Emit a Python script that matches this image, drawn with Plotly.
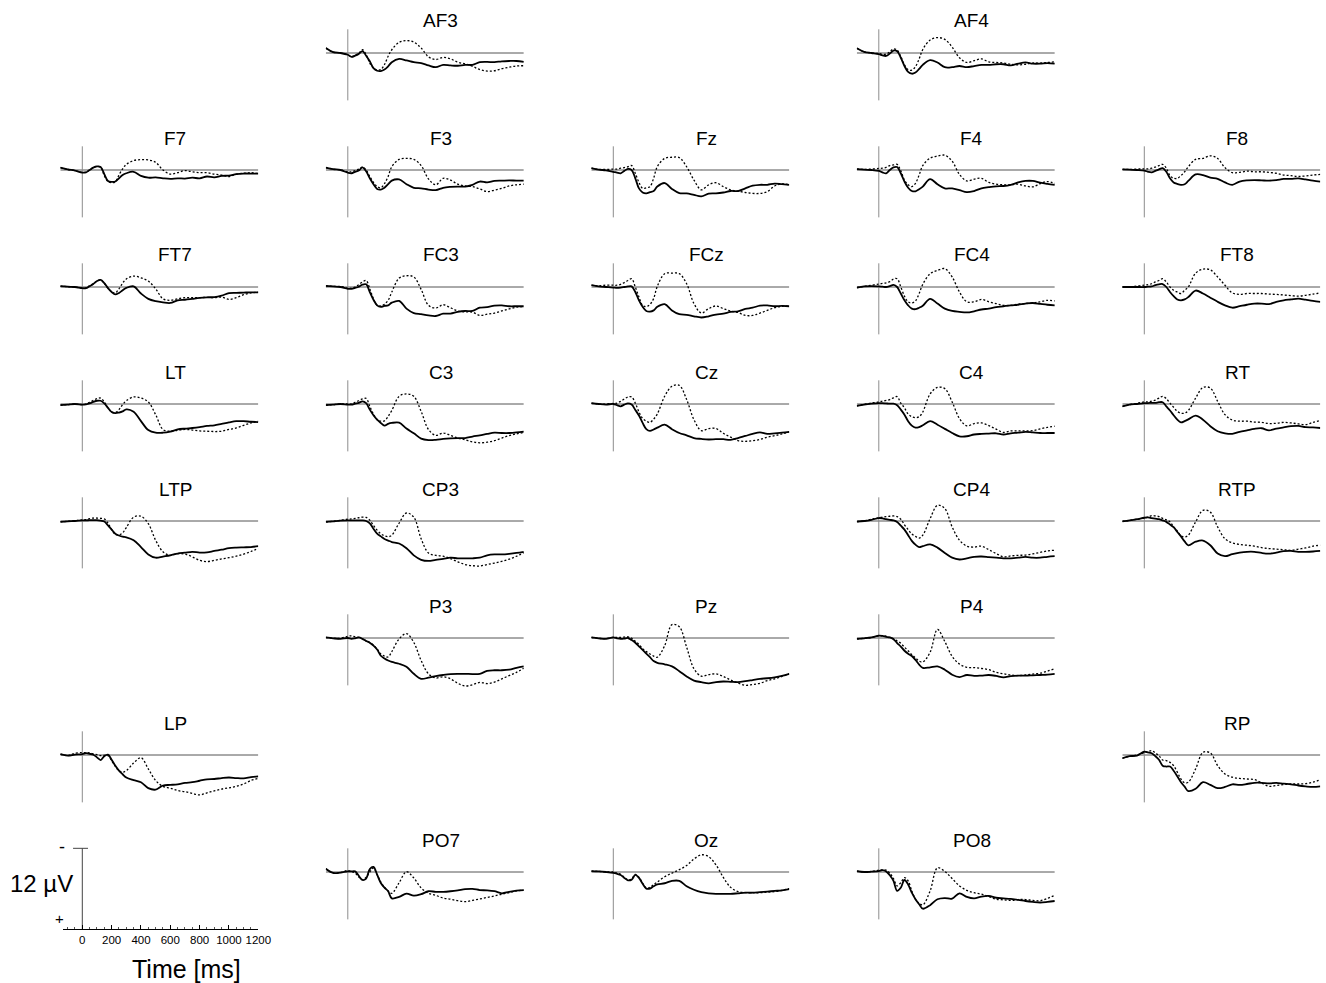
import plotly.graph_objects as go

# ---------------- data (µV, negative plotted upward) ----------------
TIME_MS = [-150, -100, -50,
           0, 25, 50, 75, 100, 125, 150, 175, 200, 225, 250, 275, 300,
           350, 400, 450, 500, 550, 600, 650, 700, 750, 800, 850, 900, 950, 1000, 1050, 1100, 1150, 1200]

AF3_a = [-0.85, -0.15, 0.0, 0.3, 0.65, 0.45, 0.15, -0.3, 0.45, 1.4, 2.55, 3.0, 3.05, 2.8, 2.25, 1.55,
         1.0, 1.25, 1.55, 1.7, 2.1, 2.4, 2.0, 2.1, 2.15, 2.0, 2.0, 1.55, 1.5, 1.55, 1.4, 1.35, 1.35, 1.5]
AF3_b = [-0.85, -0.15, 0.0, 0.3, 0.6, 0.4, 0.05, -0.55, 0.3, 1.7, 2.55, 2.85, 2.8, 1.95, 0.55, -0.55,
         -1.8, -2.1, -1.85, -0.85, 0.65, 1.1, 0.75, 1.0, 1.55, 1.85, 2.25, 2.8, 3.05, 3.0, 2.65, 2.4, 2.2, 2.15]
AF4_a = [-0.8, -0.2, 0.0, 0.2, 0.4, 0.5, 0.1, -0.4, -0.3, 0.8, 2.2, 3.2, 3.5, 3.3, 2.7, 2.0,
         1.2, 1.6, 2.4, 2.4, 2.2, 2.4, 2.2, 2.0, 2.0, 1.9, 1.9, 2.1, 1.8, 1.6, 1.8, 1.8, 1.7, 1.8]
AF4_b = [-0.8, -0.2, 0.0, 0.1, 0.2, 0.2, -0.2, -0.7, -0.5, 0.6, 2.0, 2.8, 2.9, 2.3, 1.0, -0.6,
         -2.2, -2.6, -2.3, -1.0, 0.8, 1.6, 1.3, 1.0, 1.5, 1.6, 1.7, 1.9, 2.0, 1.9, 1.7, 1.7, 1.6, 1.5]
F7_a = [-0.4, -0.1, 0.1, 0.45, 0.4, 0.0, -0.4, -0.6, -0.5, 0.7, 1.85, 2.0, 1.95, 1.4, 0.85, 0.55,
        0.3, 1.0, 1.3, 1.25, 1.4, 1.5, 1.4, 1.45, 1.3, 1.4, 1.1, 1.25, 1.0, 0.95, 0.7, 0.6, 0.6, 0.6]
F7_b = [-0.4, -0.1, 0.1, 0.4, 0.35, 0.0, -0.4, -0.6, -0.5, 0.95, 1.95, 2.15, 2.0, 0.85, -0.2, -0.95,
        -1.6, -1.75, -1.7, -1.3, 0.0, 0.7, 0.45, 0.1, 0.3, 0.45, 0.45, 0.7, 0.85, 1.1, 0.7, 0.55, 0.45, 0.6]
F3_a = [-0.4, -0.15, 0.0, 0.45, 0.55, 0.3, 0.1, -0.45, 0.2, 1.4, 2.4, 3.2, 3.3, 3.0, 2.4, 1.8,
        1.6, 2.4, 3.0, 3.1, 3.3, 3.4, 3.0, 2.85, 2.8, 2.8, 2.5, 1.95, 2.1, 1.85, 1.8, 1.75, 1.8, 1.8]
F3_b = [-0.4, -0.15, 0.0, 0.3, 0.3, 0.1, -0.15, -0.5, 0.0, 1.1, 2.1, 2.8, 3.0, 2.3, 1.1, -0.55,
        -1.8, -1.95, -1.8, -0.75, 1.5, 2.5, 1.4, 1.7, 2.4, 2.7, 2.8, 3.2, 3.65, 3.4, 3.1, 2.7, 2.5, 2.4]
Fz_a = [-0.3, -0.05, 0.05, 0.3, 0.45, 0.55, 0.15, -0.2, 0.0, 1.4, 3.1, 3.8, 3.95, 3.75, 3.55, 2.8,
        2.2, 3.2, 3.9, 3.95, 4.2, 4.45, 4.0, 3.95, 3.8, 3.55, 3.55, 3.1, 2.65, 2.5, 2.5, 2.3, 2.4, 2.5]
Fz_b = [-0.3, -0.1, -0.1, -0.15, -0.15, -0.3, -0.4, -0.55, -0.75, 0.55, 2.1, 3.1, 3.0, 2.8, 1.4, -0.55,
        -1.95, -2.15, -2.1, -0.55, 1.7, 3.35, 2.5, 2.15, 2.8, 3.35, 3.55, 3.8, 3.95, 3.95, 3.65, 2.7, 2.35, 2.5]
F4_a = [-0.15, -0.05, 0.0, 0.15, 0.4, 0.55, 0.0, -0.45, -0.5, 0.55, 1.95, 3.0, 3.55, 3.6, 3.25, 2.8,
        1.55, 2.4, 3.1, 3.1, 3.4, 3.75, 3.55, 3.1, 2.9, 2.75, 2.7, 2.5, 2.1, 1.85, 1.85, 2.15, 2.35, 2.5]
F4_b = [-0.15, -0.1, -0.15, -0.25, -0.3, -0.45, -0.75, -0.85, -0.95, 0.15, 1.7, 2.5, 2.8, 2.25, 0.85, -0.75,
        -2.0, -2.35, -2.5, -1.5, 0.75, 1.85, 1.55, 1.4, 2.1, 2.4, 2.5, 2.5, 2.4, 2.7, 2.85, 2.3, 1.95, 2.25]
F8_a = [-0.1, -0.05, 0.0, 0.1, 0.3, 0.4, 0.15, -0.1, -0.3, 0.3, 1.4, 2.1, 2.35, 2.5, 2.4, 1.85,
        0.75, 0.85, 1.3, 1.5, 2.1, 2.5, 1.95, 1.75, 1.7, 1.75, 1.8, 1.7, 1.5, 1.5, 1.4, 1.6, 1.8, 1.95]
F8_b = [-0.1, -0.1, -0.15, -0.2, -0.2, -0.3, -0.5, -0.75, -0.95, -0.3, 0.95, 1.4, 1.4, 0.95, 0.3, -0.55,
        -1.8, -1.95, -2.4, -1.95, -0.4, 0.45, 0.4, 0.2, 0.3, 0.3, 0.4, 0.55, 0.85, 0.95, 1.1, 1.0, 0.85, 0.75]
FT7_a = [-0.15, -0.05, 0.0, 0.2, 0.2, -0.15, -0.5, -1.0, -1.2, -0.65, 0.2, 0.85, 1.25, 1.0, 0.55, 0.15,
         -0.1, 1.1, 2.0, 2.4, 2.6, 2.7, 2.25, 2.15, 2.0, 1.85, 1.75, 1.7, 1.45, 1.05, 1.0, 0.95, 0.9, 0.9]
FT7_b = [-0.15, -0.05, 0.0, 0.2, 0.15, -0.2, -0.55, -1.0, -1.2, -0.6, 0.2, 0.8, 1.0, 0.3, -0.65, -1.35,
         -1.85, -1.55, -1.0, 0.3, 2.0, 2.25, 2.0, 1.8, 1.8, 1.8, 1.75, 1.8, 1.7, 2.1, 1.8, 1.3, 1.0, 0.85]
FC3_a = [-0.2, -0.1, 0.0, 0.3, 0.3, 0.15, -0.05, -0.4, -0.45, 0.85, 2.15, 3.1, 3.35, 3.2, 3.1, 2.65,
         2.35, 3.65, 4.4, 4.6, 4.8, 4.9, 4.5, 4.5, 4.2, 4.05, 4.05, 3.5, 3.4, 3.15, 3.1, 3.25, 3.25, 3.25]
FC3_b = [-0.2, -0.1, -0.1, 0.2, 0.2, 0.0, -0.4, -0.85, -1.1, 0.3, 2.0, 3.1, 3.2, 2.9, 2.25, 0.85,
         -1.5, -1.9, -1.7, 0.4, 3.1, 3.55, 3.0, 3.5, 4.05, 4.2, 4.25, 4.8, 4.6, 4.4, 4.05, 3.7, 3.4, 3.3]
FCz_a = [-0.3, -0.1, 0.0, 0.1, 0.15, 0.1, 0.0, -0.1, -0.1, 0.85, 2.25, 3.35, 4.05, 4.15, 3.95, 3.35,
         2.9, 3.95, 4.6, 4.7, 4.95, 5.15, 4.95, 4.65, 4.5, 4.2, 4.1, 3.7, 3.5, 3.15, 3.1, 3.25, 3.2, 3.25]
FCz_b = [-0.3, -0.2, -0.3, -0.3, -0.3, -0.45, -0.75, -1.1, -1.4, 0.0, 1.7, 3.1, 3.3, 2.95, 1.95, -0.1,
         -2.25, -2.35, -2.25, -0.55, 2.8, 4.4, 3.65, 3.2, 3.65, 4.05, 4.3, 4.8, 4.8, 4.4, 3.95, 3.5, 3.25, 3.25]
FC4_a = [0.1, -0.1, -0.15, -0.1, -0.05, 0.0, -0.15, -0.35, 0.0, 1.1, 2.25, 3.1, 3.65, 3.75, 3.5, 3.15,
         2.0, 2.8, 3.65, 4.05, 4.2, 4.3, 4.1, 3.8, 3.65, 3.4, 3.25, 3.1, 3.0, 2.8, 2.7, 2.85, 3.0, 3.1]
FC4_b = [0.1, -0.1, -0.3, -0.5, -0.6, -0.7, -0.9, -1.35, -1.4, 0.0, 1.55, 2.5, 2.7, 2.35, 1.1, -0.45,
         -2.25, -2.8, -3.1, -1.7, 0.85, 2.5, 2.5, 2.1, 2.5, 2.8, 3.1, 3.1, 2.9, 2.8, 2.7, 2.5, 2.25, 2.35]
FT8_a = [0.0, 0.0, 0.0, 0.0, -0.05, -0.1, -0.3, -0.45, -0.5, 0.0, 0.85, 1.55, 2.1, 2.25, 2.1, 1.7,
         0.6, 1.1, 1.8, 2.5, 3.1, 3.5, 3.25, 3.0, 2.8, 2.8, 2.9, 2.5, 2.25, 2.1, 1.95, 2.15, 2.35, 2.5]
FT8_b = [0.0, -0.05, -0.15, -0.3, -0.4, -0.55, -0.85, -1.1, -1.4, -0.85, 0.0, 0.55, 0.85, 1.1, 0.55, 0.0,
         -2.35, -3.0, -2.9, -1.7, -0.3, 1.0, 1.25, 1.1, 1.1, 1.1, 1.2, 1.25, 1.35, 1.45, 1.55, 1.4, 1.2, 1.0]
LT_a = [0.2, 0.1, 0.0, 0.1, 0.05, -0.1, -0.35, -0.55, -0.55, -0.1, 0.65, 1.35, 1.55, 1.45, 1.25, 0.9,
        1.3, 2.9, 4.4, 4.85, 4.85, 4.65, 4.3, 4.15, 4.05, 3.9, 3.7, 3.6, 3.35, 3.1, 2.9, 2.9, 3.0, 3.05]
LT_b = [0.2, 0.1, 0.0, 0.1, 0.0, -0.3, -0.6, -0.9, -1.0, -0.35, 0.65, 1.35, 1.45, 0.95, 0.1, -0.55,
        -1.2, -1.0, -0.35, 1.8, 4.3, 4.6, 4.45, 4.3, 4.4, 4.55, 4.6, 4.65, 4.6, 4.3, 4.05, 3.6, 3.2, 2.9]
C3_a = [0.2, 0.1, 0.0, 0.1, 0.1, -0.05, -0.2, -0.45, -0.15, 0.95, 1.9, 2.65, 3.2, 3.65, 3.35, 3.2,
        3.15, 4.15, 4.95, 5.85, 6.1, 6.05, 5.9, 5.8, 5.75, 5.75, 5.5, 5.3, 5.05, 4.85, 4.9, 4.9, 4.8, 4.65]
C3_b = [0.2, 0.1, 0.0, 0.0, 0.0, -0.3, -0.55, -0.85, -0.95, 0.4, 1.7, 2.65, 2.9, 2.85, 2.1, 1.1,
        -1.3, -1.7, -1.3, 1.25, 4.3, 5.3, 4.9, 5.3, 5.75, 6.05, 6.4, 6.55, 6.45, 6.2, 5.75, 5.35, 5.05, 4.8]
Cz_a = [-0.15, 0.0, 0.1, 0.0, 0.2, 0.4, 0.1, -0.1, 0.1, 1.0, 1.95, 3.2, 4.25, 4.55, 4.3, 4.0,
        3.5, 4.25, 4.9, 5.3, 5.75, 5.9, 6.0, 5.95, 5.95, 6.05, 5.75, 5.4, 5.05, 4.8, 5.05, 4.95, 4.85, 4.7]
Cz_b = [-0.15, 0.0, 0.0, -0.1, -0.15, -0.45, -0.85, -1.2, -1.2, -0.15, 1.35, 2.45, 2.9, 3.1, 2.55, 1.7,
        -1.3, -3.0, -3.15, -0.75, 2.65, 4.5, 4.15, 4.15, 4.95, 5.6, 6.2, 6.3, 6.2, 6.0, 5.6, 5.35, 5.05, 4.7]
C4_a = [0.3, 0.1, -0.05, -0.15, -0.15, -0.1, -0.05, -0.05, 0.2, 0.95, 1.8, 2.9, 3.65, 4.0, 3.9, 3.6,
        2.9, 3.5, 4.2, 4.9, 5.45, 5.45, 5.15, 5.05, 5.0, 4.95, 5.15, 4.95, 4.85, 4.7, 4.8, 4.9, 4.9, 4.9]
C4_b = [0.3, 0.05, -0.15, -0.35, -0.5, -0.6, -0.75, -1.05, -1.25, -0.15, 0.65, 1.7, 2.15, 2.3, 2.15, 1.35,
        -1.7, -2.8, -2.6, -0.35, 2.45, 3.7, 3.3, 3.2, 3.65, 4.25, 4.8, 4.55, 4.55, 4.55, 4.5, 4.2, 3.95, 3.75]
RT_a = [0.4, 0.1, 0.0, -0.15, -0.15, -0.2, -0.2, -0.3, -0.3, 0.4, 1.1, 1.9, 2.65, 3.1, 2.9, 2.6,
        1.95, 2.65, 3.75, 4.6, 4.95, 5.05, 4.7, 4.45, 4.2, 4.1, 4.45, 4.15, 3.95, 3.75, 3.7, 3.9, 3.95, 4.05]
RT_b = [0.4, 0.1, -0.1, -0.35, -0.35, -0.5, -0.65, -1.0, -1.3, -0.9, -0.15, 0.55, 1.25, 1.55, 1.55, 1.1,
        -1.0, -2.8, -2.7, -0.45, 1.8, 2.7, 2.9, 2.9, 3.05, 3.1, 3.3, 3.25, 3.1, 3.2, 3.35, 3.5, 3.1, 2.8]
LTP_a = [0.15, 0.05, 0.0, -0.1, -0.1, -0.15, -0.15, -0.15, -0.05, 0.1, 0.75, 1.45, 2.15, 2.45, 2.65, 2.75,
         3.25, 4.4, 5.65, 6.2, 6.0, 5.8, 5.5, 5.35, 5.2, 5.35, 5.3, 5.05, 4.85, 4.6, 4.5, 4.45, 4.4, 4.25]
LTP_b = [0.15, 0.05, -0.05, -0.2, -0.25, -0.4, -0.5, -0.5, -0.45, -0.35, 0.35, 1.45, 2.25, 2.35, 2.0, 1.1,
         -0.65, -0.8, 0.45, 3.25, 5.2, 5.8, 5.5, 5.6, 6.05, 6.65, 6.85, 6.65, 6.4, 6.2, 5.95, 5.6, 5.15, 4.65]
CP3_a = [0.15, 0.05, -0.05, -0.1, -0.1, -0.1, -0.1, -0.1, 0.0, 0.4, 1.3, 2.15, 2.6, 3.05, 3.3, 3.55,
         3.8, 4.6, 5.8, 6.55, 6.75, 6.55, 6.4, 6.2, 6.3, 6.3, 6.3, 6.2, 5.8, 5.65, 5.65, 5.55, 5.4, 5.2]
CP3_b = [0.15, 0.05, -0.1, -0.3, -0.35, -0.45, -0.55, -0.65, -0.6, -0.15, 0.75, 1.55, 2.15, 2.5, 2.65, 2.4,
         0.35, -1.35, -0.65, 3.0, 5.4, 5.8, 5.95, 6.35, 6.9, 7.35, 7.55, 7.6, 7.35, 7.1, 6.8, 6.45, 5.95, 5.35]
CP4_a = [0.1, 0.0, -0.2, -0.5, -0.45, -0.3, -0.2, -0.1, 0.15, 0.8, 1.45, 2.4, 3.35, 4.0, 4.4, 4.25,
         3.95, 4.5, 5.4, 6.2, 6.5, 6.3, 6.05, 6.0, 6.1, 6.2, 6.3, 6.3, 6.2, 6.05, 6.2, 6.2, 6.05, 5.95]
CP4_b = [0.1, 0.0, -0.3, -0.55, -0.65, -0.75, -0.8, -0.85, -0.75, -0.3, 0.65, 1.45, 2.2, 2.6, 2.9, 2.4,
         -0.4, -2.65, -2.1, 1.0, 3.25, 4.25, 4.4, 4.25, 4.85, 5.5, 6.05, 5.9, 5.8, 5.75, 5.55, 5.3, 5.05, 4.95]
RTP_a = [0.05, -0.1, -0.3, -0.55, -0.6, -0.5, -0.4, -0.3, -0.1, 0.15, 0.6, 1.05, 1.85, 2.6, 3.45, 4.1,
         3.5, 3.3, 4.1, 5.5, 5.95, 5.6, 5.35, 5.2, 5.2, 5.4, 5.5, 5.35, 5.1, 5.05, 5.2, 5.2, 5.15, 5.05]
RTP_b = [0.05, -0.1, -0.3, -0.5, -0.65, -0.9, -0.85, -0.75, -0.45, -0.2, 0.15, 1.0, 1.7, 2.5, 2.7, 2.4,
         0.15, -1.8, -1.5, 1.0, 3.0, 3.7, 3.95, 4.1, 4.25, 4.5, 4.65, 4.75, 4.85, 4.95, 4.75, 4.55, 4.25, 4.1]
P3_a = [-0.1, 0.05, 0.15, 0.0, 0.15, 0.05, -0.1, 0.15, 0.5, 0.8, 1.3, 1.95, 3.0, 3.45, 3.8, 4.05,
        4.35, 4.85, 6.05, 6.9, 6.7, 6.45, 6.25, 6.1, 6.05, 6.05, 6.1, 6.05, 5.55, 5.45, 5.45, 5.35, 5.05, 4.8]
P3_b = [-0.1, 0.05, 0.05, -0.3, -0.35, -0.2, -0.1, 0.15, 0.5, 0.8, 1.2, 1.85, 2.7, 3.05, 3.2, 2.3,
        0.15, -0.75, 0.75, 3.8, 6.05, 6.75, 6.55, 6.9, 7.65, 8.1, 7.9, 7.5, 7.7, 7.45, 6.9, 6.35, 5.8, 5.1]
Pz_a = [-0.1, 0.05, 0.15, -0.1, 0.05, 0.15, 0.1, 0.0, 0.35, 0.8, 1.4, 2.0, 2.65, 3.25, 3.9, 4.2,
        4.45, 4.8, 5.6, 6.5, 7.2, 7.45, 7.65, 7.45, 7.35, 7.4, 7.45, 7.3, 7.1, 6.9, 6.8, 6.65, 6.4, 6.05]
Pz_b = [-0.1, 0.05, 0.1, -0.1, -0.1, -0.1, -0.15, -0.2, 0.05, 0.55, 1.1, 1.8, 2.3, 2.7, 3.05, 3.25,
        1.3, -2.25, -1.9, 1.55, 5.2, 6.45, 6.2, 6.05, 6.5, 7.1, 7.6, 8.0, 7.85, 7.65, 7.2, 6.9, 6.5, 6.05]
P4_a = [0.15, 0.05, -0.1, -0.4, -0.35, -0.2, -0.1, 0.2, 0.85, 1.45, 2.15, 2.65, 3.05, 3.7, 4.5, 5.05,
        4.95, 4.8, 5.35, 6.2, 6.6, 6.25, 6.4, 6.35, 6.25, 6.4, 6.65, 6.45, 6.35, 6.35, 6.3, 6.25, 6.2, 6.05]
P4_b = [0.15, 0.05, -0.1, -0.35, -0.35, -0.3, -0.1, 0.1, 0.5, 0.9, 1.55, 2.15, 2.8, 3.35, 3.9, 4.05,
        2.4, -1.45, 0.6, 3.1, 4.4, 4.95, 5.0, 5.15, 5.35, 5.8, 6.05, 6.25, 6.35, 6.25, 6.1, 5.95, 5.6, 5.2]
LP_a = [-0.15, 0.1, -0.05, -0.15, -0.3, -0.2, -0.05, 0.4, 0.85, 0.2, -0.05, 0.8, 1.8, 2.65, 3.25, 3.8,
        4.25, 4.6, 5.6, 5.85, 5.15, 5.05, 4.95, 4.7, 4.6, 4.35, 4.1, 4.05, 3.9, 3.8, 3.9, 3.95, 3.75, 3.6]
LP_b = [-0.15, 0.1, -0.3, -0.4, -0.4, -0.35, -0.2, -0.05, 0.1, 0.05, 0.1, 0.95, 1.9, 2.65, 2.9, 2.65,
        1.35, 0.45, 2.35, 4.3, 5.3, 5.6, 6.0, 6.2, 6.5, 6.75, 6.4, 6.05, 5.75, 5.55, 5.3, 4.9, 4.3, 3.95]
RP_a = [0.55, 0.2, 0.1, -0.55, -0.45, -0.3, 0.2, 0.8, 1.8, 1.95, 1.95, 2.65, 3.6, 4.6, 5.35, 6.1,
        5.7, 4.6, 5.05, 5.6, 5.4, 4.95, 5.05, 4.9, 4.7, 4.7, 4.8, 4.7, 4.85, 4.95, 5.15, 5.3, 5.4, 5.3]
RP_b = [0.55, 0.2, 0.0, -0.4, -0.55, -0.75, -0.35, 0.1, 0.85, 0.95, 1.25, 1.8, 2.9, 4.05, 4.7, 4.6,
        2.35, -0.45, -0.35, 1.8, 3.2, 3.75, 3.95, 4.05, 4.15, 4.7, 5.3, 5.15, 5.0, 4.9, 4.9, 4.85, 4.6, 4.2]
PO7_a = [-0.55, 0.15, 0.1, -0.1, -0.1, -0.1, 0.65, 1.35, 1.1, -0.5, -0.85, 0.45, 1.85, 2.65, 3.25, 4.45,
         4.2, 3.65, 4.0, 3.75, 3.25, 3.35, 3.35, 3.25, 3.1, 2.9, 2.85, 3.05, 3.1, 3.25, 3.6, 3.35, 3.15, 3.05]
PO7_b = [-0.55, 0.15, 0.1, -0.25, -0.1, 0.2, 0.85, 1.3, 0.9, 0.0, -0.65, 0.45, 1.7, 2.6, 3.2, 3.6,
         1.8, -0.05, 1.0, 2.7, 3.6, 3.95, 4.4, 4.6, 4.85, 5.0, 4.8, 4.55, 4.3, 4.05, 3.75, 3.5, 3.2, 3.05]
Oz_a = [-0.15, -0.1, 0.0, 0.15, 0.3, 0.5, 1.0, 1.4, 1.3, 0.5, 1.0, 2.0, 2.8, 2.8, 2.4, 2.1,
        1.9, 1.5, 1.5, 2.4, 3.0, 3.4, 3.6, 3.7, 3.7, 3.7, 3.6, 3.5, 3.5, 3.4, 3.3, 3.2, 3.1, 2.9]
Oz_b = [-0.15, -0.1, 0.0, 0.0, 0.2, 0.4, 0.9, 1.3, 1.2, 0.4, 0.9, 1.9, 2.7, 2.6, 2.1, 1.7,
        0.8, 0.2, -0.4, -1.1, -2.2, -2.9, -2.6, -1.2, 0.9, 2.6, 3.3, 3.5, 3.5, 3.5, 3.4, 3.3, 3.1, 2.8]
PO8_a = [-0.15, 0.0, -0.05, -0.15, -0.3, -0.1, 0.55, 1.5, 3.2, 2.65, 1.35, 2.1, 3.5, 4.6, 5.45, 6.2,
         5.6, 4.6, 4.4, 4.5, 3.6, 4.2, 4.45, 4.15, 4.05, 4.35, 4.45, 4.55, 4.7, 4.9, 5.05, 5.15, 5.05, 4.9]
PO8_b = [-0.15, 0.0, -0.1, -0.3, -0.35, -0.3, 0.2, 1.1, 2.35, 1.8, 0.95, 1.5, 3.2, 4.6, 5.3, 5.55,
         3.2, -0.7, -0.1, 1.1, 2.35, 3.1, 3.5, 3.75, 4.15, 4.6, 4.7, 4.8, 4.65, 4.65, 4.8, 4.85, 4.45, 3.95]

# electrode name, grid row, grid column, solid series, dotted series
PANELS = [
    ("AF3", 0, 1, AF3_a, AF3_b), ("AF4", 0, 3, AF4_a, AF4_b),
    ("F7", 1, 0, F7_a, F7_b), ("F3", 1, 1, F3_a, F3_b), ("Fz", 1, 2, Fz_a, Fz_b),
    ("F4", 1, 3, F4_a, F4_b), ("F8", 1, 4, F8_a, F8_b),
    ("FT7", 2, 0, FT7_a, FT7_b), ("FC3", 2, 1, FC3_a, FC3_b), ("FCz", 2, 2, FCz_a, FCz_b),
    ("FC4", 2, 3, FC4_a, FC4_b), ("FT8", 2, 4, FT8_a, FT8_b),
    ("LT", 3, 0, LT_a, LT_b), ("C3", 3, 1, C3_a, C3_b), ("Cz", 3, 2, Cz_a, Cz_b),
    ("C4", 3, 3, C4_a, C4_b), ("RT", 3, 4, RT_a, RT_b),
    ("LTP", 4, 0, LTP_a, LTP_b), ("CP3", 4, 1, CP3_a, CP3_b),
    ("CP4", 4, 3, CP4_a, CP4_b), ("RTP", 4, 4, RTP_a, RTP_b),
    ("P3", 5, 1, P3_a, P3_b), ("Pz", 5, 2, Pz_a, Pz_b), ("P4", 5, 3, P4_a, P4_b),
    ("LP", 6, 0, LP_a, LP_b), ("RP", 6, 4, RP_a, RP_b),
    ("PO7", 7, 1, PO7_a, PO7_b), ("Oz", 7, 2, Oz_a, Oz_b), ("PO8", 7, 3, PO8_a, PO8_b),
]

SCALE_TICKS_MS = [0, 200, 400, 600, 800, 1000, 1200]
SCALE_NEG_UV, SCALE_POS_UV = -4, 8   # 12 µV calibration bar

# ---------------- layout geometry (pixels) ----------------
W, H = 1326, 983
COL_ZERO_PX = [82.3 + 265.5 * c for c in range(5)]
ROW_BASE_PX = [53 + 117 * r for r in range(8)]
PX_PER_MS = 0.14667
PX_PER_UV = 5.92
T_MIN, T_MAX = -150, 1200
Y_TOP, Y_BOT = -5.5, 10.0

TITLE_FONT = dict(family="Liberation Sans, Arial, sans-serif", size=19, color="black")
TEXT_FONT = "Liberation Sans, Arial, sans-serif"


def fx(p):
    return p / W


def fy(p):
    return 1 - p / H


fig = go.Figure()
layout_axes = {}
annotations = []

for i, (name, r, c, solid, dotted) in enumerate(PANELS):
    n = i + 1
    sfx = "" if n == 1 else str(n)
    xr, yr = "x" + sfx, "y" + sfx
    z, b = COL_ZERO_PX[c], ROW_BASE_PX[r]
    layout_axes["xaxis" + sfx] = dict(domain=[fx(z + PX_PER_MS * T_MIN), fx(z + PX_PER_MS * T_MAX)],
                                      range=[T_MIN, T_MAX], visible=False, anchor=yr, fixedrange=True,
                                      automargin=False)
    layout_axes["yaxis" + sfx] = dict(domain=[fy(b + PX_PER_UV * Y_BOT), fy(b + PX_PER_UV * Y_TOP)],
                                      range=[Y_BOT, Y_TOP], visible=False, anchor=xr, fixedrange=True,
                                      automargin=False)
    # baseline
    fig.add_trace(go.Scatter(x=[T_MIN, T_MAX], y=[0, 0], mode="lines",
                             line=dict(color="#555555", width=1), xaxis=xr, yaxis=yr, hoverinfo="skip"))
    # stimulus onset / calibration line
    fig.add_trace(go.Scatter(x=[0, 0], y=[SCALE_NEG_UV, SCALE_POS_UV], mode="lines",
                             line=dict(color="#8c8c8c", width=1), xaxis=xr, yaxis=yr, hoverinfo="skip"))
    fig.add_trace(go.Scatter(x=TIME_MS, y=dotted, mode="lines",
                             line=dict(color="black", width=1.3, dash="2px,2px", shape="spline", smoothing=1.0),
                             xaxis=xr, yaxis=yr, name=name + " dotted"))
    fig.add_trace(go.Scatter(x=TIME_MS, y=solid, mode="lines",
                             line=dict(color="black", width=1.8, shape="spline", smoothing=1.0),
                             xaxis=xr, yaxis=yr, name=name + " solid"))
    annotations.append(dict(text=name, xref="paper", yref="paper", x=fx(z + 93), y=fy(b - 32),
                            xanchor="center", yanchor="middle", showarrow=False, font=TITLE_FONT))

# ---------------- calibration panel ----------------
n = len(PANELS) + 1
sfx = str(n)
xr, yr = "x" + sfx, "y" + sfx
z, b = COL_ZERO_PX[0], ROW_BASE_PX[7]
ax_left_px, ax_bottom_px, ax_top_px = 63, 929, 846
t_left = (ax_left_px - z) / PX_PER_MS
uv_bottom = (ax_bottom_px - b) / PX_PER_UV
uv_top = (ax_top_px - b) / PX_PER_UV
layout_axes["xaxis" + sfx] = dict(
    domain=[fx(ax_left_px), fx(z + PX_PER_MS * SCALE_TICKS_MS[-1])],
    range=[t_left, SCALE_TICKS_MS[-1]], anchor=yr, fixedrange=True, automargin=False,
    showline=True, linecolor="black", linewidth=1, showgrid=False, zeroline=False,
    ticks="inside", ticklen=4, tickcolor="black", tickwidth=1,
    tickvals=SCALE_TICKS_MS, ticktext=[str(t) for t in SCALE_TICKS_MS],
    tickfont=dict(family=TEXT_FONT, size=11.5, color="black"),
    minor=dict(ticks="inside", ticklen=2, tickcolor="#555555", tick0=0, dtick=50, showgrid=False))
layout_axes["yaxis" + sfx] = dict(domain=[fy(ax_bottom_px), fy(ax_top_px)], range=[uv_bottom, uv_top],
                                  visible=False, anchor=xr, fixedrange=True, automargin=False)
fig.add_trace(go.Scatter(x=[0, 0], y=[SCALE_NEG_UV, uv_bottom], mode="lines",
                         line=dict(color="#444444", width=1), xaxis=xr, yaxis=yr, hoverinfo="skip"))
fig.add_trace(go.Scatter(x=[-63, 39], y=[SCALE_NEG_UV, SCALE_NEG_UV], mode="lines",
                         line=dict(color="#444444", width=1), xaxis=xr, yaxis=yr, hoverinfo="skip"))

annotations += [
    dict(text="-", xref="paper", yref="paper", x=fx(62), y=fy(847), showarrow=False,
         xanchor="center", yanchor="middle", font=dict(family=TEXT_FONT, size=18, color="black")),
    dict(text="+", xref="paper", yref="paper", x=fx(59), y=fy(918), showarrow=False,
         xanchor="center", yanchor="middle", font=dict(family=TEXT_FONT, size=15, color="black")),
    dict(text="12 µV", xref="paper", yref="paper", x=fx(41), y=fy(883), showarrow=False,
         xanchor="center", yanchor="middle", font=dict(family=TEXT_FONT, size=24, color="black")),
    dict(text="Time [ms]", xref="paper", yref="paper", x=fx(186), y=fy(969), showarrow=False,
         xanchor="center", yanchor="middle", font=dict(family=TEXT_FONT, size=25, color="black")),
]

fig.update_layout(width=W, height=H, autosize=False,
                  margin=dict(l=0, r=0, t=0, b=0, pad=0, autoexpand=False), showlegend=False,
                  paper_bgcolor="white", plot_bgcolor="rgba(0,0,0,0)", annotations=annotations,
                  **layout_axes)

fig.write_html(
    "out.html",
    config={"responsive": False, "displayModeBar": False},
    post_script=("document.documentElement.style.overflow='hidden';"
                 "document.body.style.overflow='hidden';"
                 "document.body.style.margin='0px';document.body.style.padding='0px';"),
)
